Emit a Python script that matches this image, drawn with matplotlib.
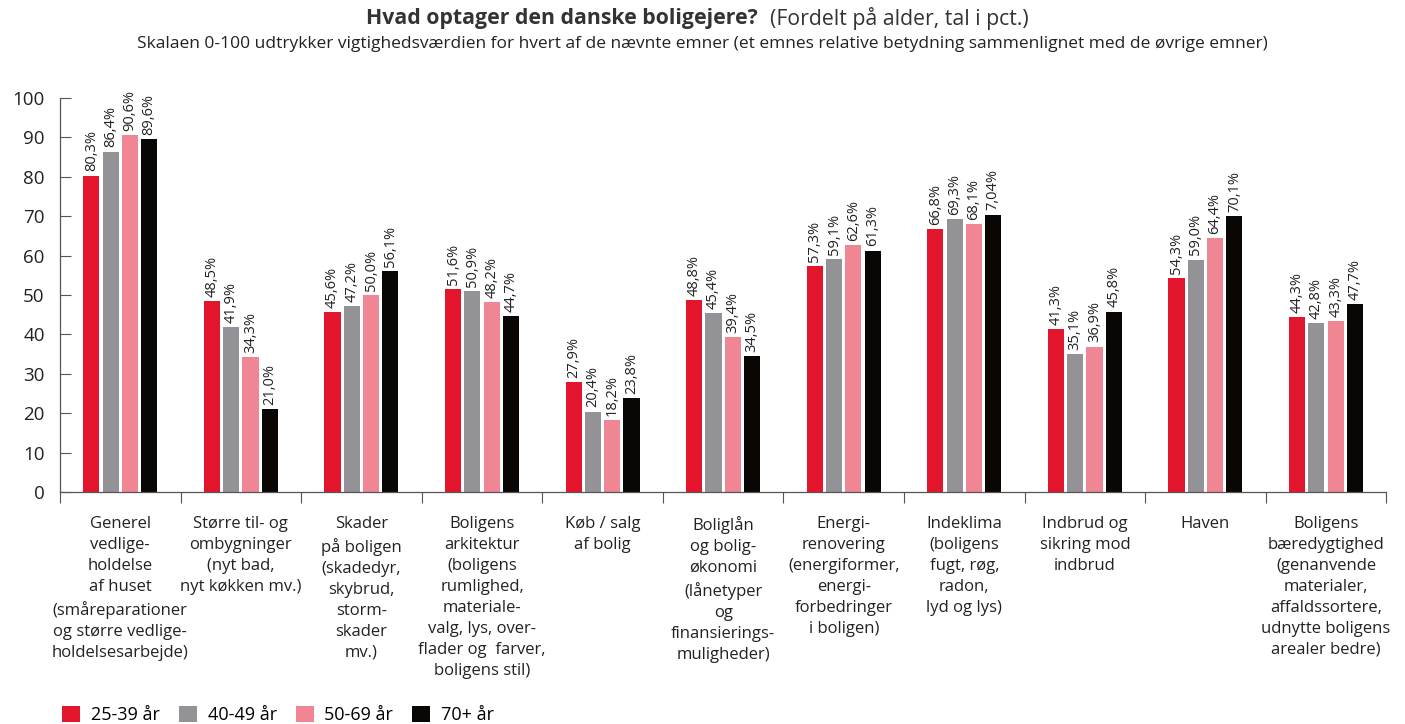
import numpy as np
import matplotlib.pyplot as plt

# Data
categories = [
    "Generel\nvedlige-\nholdelse\naf huset\n(småreparationer\nog større vedlige-\nholdelsesarbejde)",
    "Større til- og\nombygninger\n(nyt bad,\nnyt køkken mv.)",
    "Skader\npå boligen\n(skadedyr,\nskybrud,\nstorm-\nskader\nmv.)",
    "Boligens\narkitektur\n(boligens\nrumlighed,\nmateriale-\nvalg, lys, over-\nflader og  farver,\nboligens stil)",
    "Køb / salg\naf bolig",
    "Boliglån\nog bolig-\nøkonomi\n(lånetyper\nog\nfinansierings-\nmuligheder)",
    "Energi-\nrenovering\n(energiformer,\nenergi-\nforbedringer\ni boligen)",
    "Indeklima\n(boligens\nfugt, røg,\nradon,\nlyd og lys)",
    "Indbrud og\nsikring mod\nindbrud",
    "Haven",
    "Boligens\nbæredygtighed\n(genanvende\nmaterialer,\naffaldssortere,\nudnytte boligens\narealer bedre)",
]
series_names = ["25-39 år", "40-49 år", "50-69 år", "70+ år"]
v_25_39 = [80.3, 48.5, 45.6, 51.6, 27.9, 48.8, 57.3, 66.8, 41.3, 54.3, 44.3]
v_40_49 = [86.4, 41.9, 47.2, 50.9, 20.4, 45.4, 59.1, 69.3, 35.1, 59.0, 42.8]
v_50_69 = [90.6, 34.3, 50.0, 48.2, 18.2, 39.4, 62.6, 68.1, 36.9, 64.4, 43.3]
v_70 = [89.6, 21.0, 56.1, 44.7, 23.8, 34.5, 61.3, 70.4, 45.8, 70.1, 47.7]
# label texts as printed in the source (one label reads "7,04%")
lbl_70 = ["89,6%", "21,0%", "56,1%", "44,7%", "23,8%", "34,5%", "61,3%", "7,04%", "45,8%", "70,1%", "47,7%"]

colors = ["#E3152D", "#939297", "#F08594", "#0A0604"]
font = ["Open Sans", "DejaVu Sans"]
plt.rcParams['font.family'] = font

fig = plt.figure(figsize=(14.05, 7.24), dpi=100)
ax = fig.add_axes([0.0427, 0.3204, 0.944, 0.5442])

x = np.arange(len(categories))
step = 0.16
width = 0.134
all_series = [v_25_39, v_40_49, v_50_69, v_70]
for i, (vals, name, c) in enumerate(zip(all_series, series_names, colors)):
    pos = x + (i - 1.5) * step
    ax.bar(pos, vals, width=width, color=c, label=name)
    for j, (p, v) in enumerate(zip(pos, vals)):
        txt = lbl_70[j] if i == 3 else f"{v:.1f}%".replace(".", ",")
        ax.annotate(txt, (p, v), xytext=(0, 3), textcoords="offset points",
                    rotation=90, ha="center", va="bottom", fontsize=10.5,
                    color="#222222")

ax.set_xlim(-0.5, len(categories) - 0.5)
ax.set_ylim(0, 100)
ax.set_yticks(range(0, 101, 10))
ax.tick_params(axis="y", direction="in", length=8, width=0.8, labelsize=13.5,
               pad=11, color="#555555", labelcolor="#222222")
ax.set_xticks(np.arange(-0.5, len(categories), 1.0))
ax.set_xticklabels([])
ax.tick_params(axis="x", direction="out", length=8, width=0.8, color="#555555")
for s in ["top", "right"]:
    ax.spines[s].set_visible(False)
for s in ["left", "bottom"]:
    ax.spines[s].set_color("#555555")
    ax.spines[s].set_linewidth(0.9)

for xi, cat in zip(x, categories):
    ax.text(xi, -6, cat, ha="center", va="top", fontsize=12, linespacing=1.42,
            color="#222222", transform=ax.transData, clip_on=False)

# Title
fig.text(0.5395, 0.975, "Hvad optager den danske boligejere?", ha="right", va="center",
         fontsize=15.3, fontweight="bold", color="#333333")
fig.text(0.548, 0.975, "(Fordelt på alder, tal i pct.)", ha="left", va="center",
         fontsize=15.3, color="#333333")
fig.text(0.5, 0.939, "Skalaen 0-100 udtrykker vigtighedsværdien for hvert af de nævnte emner "
         "(et emnes relative betydning sammenlignet med de øvrige emner)",
         ha="center", va="center", fontsize=12.5, color="#222222")

ax.legend(loc="center left", bbox_to_anchor=(-0.004, -0.566), ncol=4, frameon=False,
          fontsize=13, handlelength=1.0, handleheight=1.0, handletextpad=0.6,
          columnspacing=1.05, borderaxespad=0)

fig.savefig("out.png", dpi=100)
